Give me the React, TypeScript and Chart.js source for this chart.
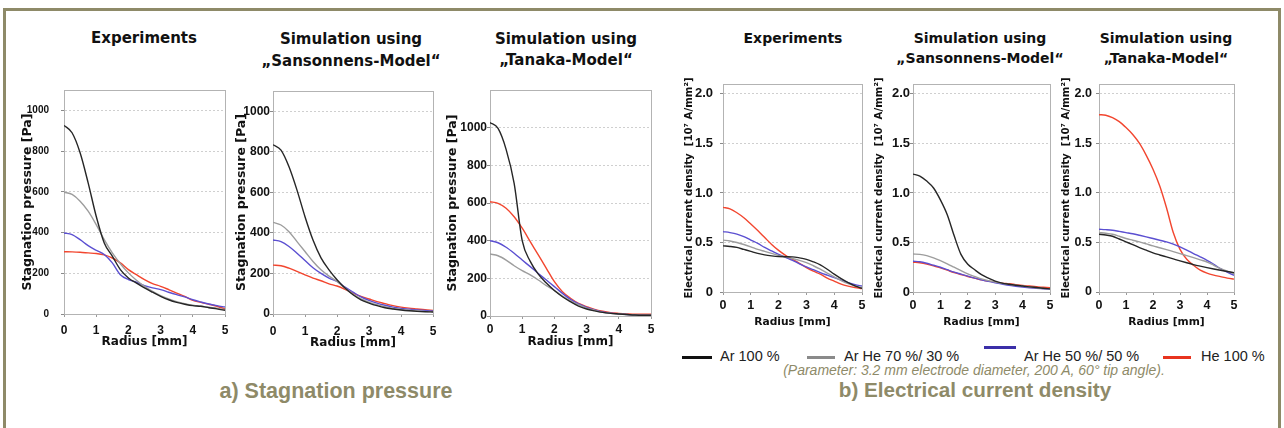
import React, { useEffect, useRef } from 'react';
import { Chart, registerables } from 'chart.js';
Chart.register(...registerables);

// ---------- data ----------
const radius = [0, 0.25, 0.5, 0.75, 1, 1.25, 1.5, 1.75, 2, 2.25, 2.5, 2.75, 3, 3.25, 3.5, 3.75, 4, 4.25, 4.5, 4.75, 5];
const radiusTicks = [0, 1, 2, 3, 4, 5];
const pressureTicks = [0, 200, 400, 600, 800, 1000];
const currentTicks = [0, 0.5, 1, 1.5, 2];
const gasLabels = ['Ar 100 %', 'Ar He 70 %/ 30 %', 'Ar He 50 %/ 50 %', 'He 100 %'];

// a) Stagnation pressure [Pa] - Experiments
const pExpAr100 = [926, 890, 792, 644, 480, 349, 284, 218, 177, 152, 128, 107, 87, 70, 57, 48, 41, 38, 31, 25, 18];
const pExpArHe70 = [598, 587, 554, 505, 439, 365, 300, 247, 202, 166, 136, 111, 90, 74, 61, 51, 43, 38, 34, 28, 21];
const pExpArHe50 = [398, 390, 365, 336, 313, 292, 251, 193, 169, 156, 139, 128, 120, 107, 95, 84, 70, 59, 49, 41, 34];
const pExpHe100 = [306, 305, 303, 300, 297, 290, 275, 251, 218, 193, 169, 149, 136, 120, 103, 87, 67, 57, 48, 38, 25];
// Sansonnens-Model
const pSanAr100 = [835, 808, 726, 611, 480, 365, 277, 218, 169, 128, 95, 70, 54, 41, 31, 25, 20, 16, 13, 11, 10];
const pSanArHe70 = [452, 439, 406, 357, 308, 259, 218, 187, 161, 128, 98, 75, 59, 46, 36, 28, 23, 19, 16, 13, 11];
const pSanArHe50 = [365, 357, 333, 300, 264, 228, 200, 177, 161, 133, 108, 84, 67, 54, 43, 34, 28, 24, 20, 17, 15];
const pSanHe100 = [241, 238, 226, 210, 193, 177, 164, 149, 138, 122, 103, 87, 74, 61, 51, 41, 34, 29, 25, 21, 18];
// Tanaka-Model
const pTanAr100 = [1027, 996, 885, 704, 400, 290, 222, 175, 135, 102, 76, 53, 37, 27, 19, 14, 11, 8, 5, 4, 4];
const pTanArHe70 = [329, 320, 297, 267, 241, 218, 191, 161, 135, 106, 81, 60, 42, 30, 19, 14, 11, 8, 5, 4, 4];
const pTanArHe50 = [400, 389, 365, 333, 297, 262, 226, 191, 156, 120, 88, 64, 46, 32, 21, 15, 11, 8, 5, 4, 4];
const pTanHe100 = [607, 598, 572, 527, 466, 395, 324, 253, 182, 129, 94, 67, 50, 35, 25, 18, 14, 11, 9, 9, 9];

// b) Electrical current density [10^7 A/mm²] - Experiments
const jExpAr100 = [0.466, 0.46, 0.45, 0.43, 0.41, 0.39, 0.375, 0.365, 0.358, 0.356, 0.355, 0.345, 0.33, 0.305, 0.274, 0.23, 0.18, 0.135, 0.095, 0.062, 0.037];
const jExpArHe70 = [0.524, 0.515, 0.5, 0.48, 0.456, 0.43, 0.41, 0.39, 0.37, 0.355, 0.338, 0.32, 0.297, 0.265, 0.23, 0.19, 0.152, 0.115, 0.084, 0.06, 0.044];
const jExpArHe50 = [0.61, 0.6, 0.585, 0.56, 0.524, 0.49, 0.45, 0.415, 0.38, 0.35, 0.32, 0.285, 0.253, 0.225, 0.196, 0.17, 0.145, 0.12, 0.095, 0.075, 0.06];
const jExpHe100 = [0.855, 0.84, 0.8, 0.75, 0.686, 0.62, 0.55, 0.48, 0.42, 0.37, 0.33, 0.29, 0.247, 0.21, 0.18, 0.14, 0.11, 0.08, 0.06, 0.045, 0.034];
// Sansonnens-Model
const jSanAr100 = [1.19, 1.17, 1.12, 1.05, 0.93, 0.78, 0.57, 0.38, 0.28, 0.225, 0.175, 0.14, 0.11, 0.09, 0.078, 0.068, 0.06, 0.052, 0.045, 0.038, 0.032];
const jSanArHe70 = [0.383, 0.38, 0.367, 0.345, 0.317, 0.285, 0.25, 0.215, 0.183, 0.157, 0.133, 0.115, 0.1, 0.088, 0.077, 0.068, 0.06, 0.051, 0.043, 0.036, 0.03];
const jSanArHe50 = [0.31, 0.305, 0.29, 0.27, 0.25, 0.225, 0.2, 0.18, 0.16, 0.14, 0.123, 0.107, 0.093, 0.08, 0.067, 0.058, 0.05, 0.043, 0.037, 0.032, 0.027];
const jSanHe100 = [0.3, 0.295, 0.283, 0.265, 0.243, 0.22, 0.197, 0.177, 0.157, 0.14, 0.123, 0.11, 0.1, 0.09, 0.083, 0.075, 0.067, 0.06, 0.053, 0.048, 0.043];
// Tanaka-Model
const jTanAr100 = [0.583, 0.575, 0.563, 0.535, 0.506, 0.478, 0.449, 0.422, 0.395, 0.374, 0.354, 0.334, 0.314, 0.295, 0.277, 0.261, 0.246, 0.232, 0.219, 0.207, 0.196];
const jTanArHe70 = [0.6, 0.593, 0.583, 0.563, 0.54, 0.523, 0.506, 0.486, 0.465, 0.447, 0.428, 0.408, 0.388, 0.368, 0.347, 0.325, 0.303, 0.27, 0.236, 0.21, 0.185];
const jTanArHe50 = [0.634, 0.63, 0.624, 0.612, 0.6, 0.588, 0.573, 0.557, 0.54, 0.523, 0.506, 0.483, 0.455, 0.423, 0.388, 0.355, 0.32, 0.28, 0.236, 0.2, 0.169];
const jTanHe100 = [1.79, 1.785, 1.76, 1.72, 1.66, 1.59, 1.5, 1.38, 1.24, 1.07, 0.85, 0.6, 0.43, 0.33, 0.27, 0.22, 0.19, 0.17, 0.155, 0.14, 0.13];

const headExp = ['Experiments'];
const headSan = ['Simulation using', '\u201ESansonnens-Model\u201C'];
const headTan = ['Simulation using', '\u201ETanaka-Model\u201C'];
const yTitlePressure = 'Stagnation pressure [Pa]';
const yTitleCurrent = 'Electrical current density  [10\u2077 A/mm\u00B2]';
const xTitle = 'Radius [mm]';

// ---------- styles ----------
const lineColors = ['#262626', '#9d9d9d', '#5b4fd1', '#f2462f'];
const legendColors = ['#111111', '#8a8a8a', '#3b2fa8', '#e8341f'];
const olive = '#8e8a68';
const SANS = '"Liberation Sans", Arial, sans-serif';
const DEJA = '"DejaVu Sans", sans-serif';
const PAD_TOP = 22;

type Cfg = {
  L: number; T: number; R: number; B: number;
  yMax: number; yTicks: number[]; yFmt: (v: number) => string;
  yTickSize: number; yTickPad: number;
  yTitle: string; yTitleSize: number; yTitleX: number;
  xTickSize: number; xTickPad: number;
  xTitleSize: number; xTitleY: number;
  series: number[][];
};

const fmtP = (v: number) => String(v);
const fmtJ = (v: number) => (v === 0 ? '0' : v.toFixed(1));

const panels: Cfg[] = [
  { L: 64, T: 90, R: 225, B: 314, yMax: 1100, yTicks: pressureTicks, yFmt: fmtP, yTickSize: 10, yTickPad: 12,
    yTitle: yTitlePressure, yTitleSize: 12.5, yTitleX: 27.5, xTickSize: 12, xTickPad: 6, xTitleSize: 12, xTitleY: 342,
    series: [pExpAr100, pExpArHe70, pExpArHe50, pExpHe100] },
  { L: 273, T: 91, R: 433, B: 314, yMax: 1100, yTicks: pressureTicks, yFmt: fmtP, yTickSize: 12, yTickPad: 0,
    yTitle: yTitlePressure, yTitleSize: 12.5, yTitleX: 241, xTickSize: 12, xTickPad: 7, xTitleSize: 12, xTitleY: 343,
    series: [pSanAr100, pSanArHe70, pSanArHe50, pSanHe100] },
  { L: 490, T: 90, R: 651, B: 316, yMax: 1200, yTicks: pressureTicks, yFmt: fmtP, yTickSize: 12, yTickPad: 0,
    yTitle: yTitlePressure, yTitleSize: 12.5, yTitleX: 452, xTickSize: 12, xTickPad: 3, xTitleSize: 12, xTitleY: 342,
    series: [pTanAr100, pTanArHe70, pTanArHe50, pTanHe100] },
  { L: 723, T: 84, R: 862, B: 292, yMax: 2.1, yTicks: currentTicks, yFmt: fmtJ, yTickSize: 13, yTickPad: 7,
    yTitle: yTitleCurrent, yTitleSize: 10.2, yTitleX: 689, xTickSize: 12.5, xTickPad: 3, xTitleSize: 10.7, xTitleY: 323,
    series: [jExpAr100, jExpArHe70, jExpArHe50, jExpHe100] },
  { L: 913, T: 84, R: 1050, B: 292, yMax: 2.1, yTicks: currentTicks, yFmt: fmtJ, yTickSize: 13, yTickPad: 0,
    yTitle: yTitleCurrent, yTitleSize: 10.2, yTitleX: 879, xTickSize: 12.5, xTickPad: 3, xTitleSize: 10.7, xTitleY: 323,
    series: [jSanAr100, jSanArHe70, jSanArHe50, jSanHe100] },
  { L: 1099, T: 84, R: 1234, B: 292, yMax: 2.1, yTicks: currentTicks, yFmt: fmtJ, yTickSize: 12.5, yTickPad: 4,
    yTitle: yTitleCurrent, yTitleSize: 10.2, yTitleX: 1066, xTickSize: 12.5, xTickPad: 3, xTitleSize: 10.7, xTitleY: 323,
    series: [jTanAr100, jTanArHe70, jTanArHe50, jTanHe100] },
];

const headings = [
  { lines: headExp, cx: 144, base: [44], size: 15 },
  { lines: headSan, cx: 351, base: [45, 67], size: 15 },
  { lines: headTan, cx: 566, base: [45, 66], size: 15 },
  { lines: headExp, cx: 793, base: [42.5], size: 14 },
  { lines: headSan, cx: 980, base: [43, 62.5], size: 14 },
  { lines: headTan, cx: 1166, base: [42.5, 62.5], size: 14 },
];

const frame = {
  id: 'plotFrame',
  beforeDatasetsDraw(chart: any) {
    const { ctx, chartArea: a } = chart;
    ctx.save();
    ctx.strokeStyle = '#b3b3b3';
    ctx.lineWidth = 1;
    ctx.strokeRect(Math.round(a.left) + 0.5, Math.round(a.top) + 0.5, Math.round(a.right - a.left), Math.round(a.bottom - a.top));
    ctx.restore();
  },
};

function geo(c: Cfg) {
  const cl = Math.round(c.yTitleX - (c.yTitleSize * 1.2) / 2);
  const ct = c.T - PAD_TOP;
  const cb = Math.round(c.xTitleY + (c.xTitleSize * 1.2) / 2);
  const cr = c.R + 14;
  return { cl, ct, w: cr - cl, h: cb - ct, yW: c.L - cl, xH: cb - c.B };
}

function Panel({ c }: { c: Cfg }) {
  const ref = useRef<HTMLCanvasElement | null>(null);
  const g = geo(c);
  useEffect(() => {
    if (!ref.current) return;
    const chart = new Chart(ref.current, {
      type: 'line',
      data: {
        datasets: c.series.map((s, i) => ({
          label: gasLabels[i],
          data: radius.map((x, k) => ({ x, y: s[k] })),
          borderColor: lineColors[i],
          borderWidth: 1.4,
          pointRadius: 0,
          fill: false,
          cubicInterpolationMode: 'monotone' as const,
        })),
      },
      options: {
        animation: false,
        responsive: false,
        devicePixelRatio: 1,
        events: [],
        layout: { padding: { left: 0, top: PAD_TOP, right: 14, bottom: 0 } },
        plugins: { legend: { display: false }, tooltip: { enabled: false }, title: { display: false } },
        scales: {
          x: {
            type: 'linear',
            min: 0,
            max: 5,
            afterBuildTicks: (s: any) => { s.ticks = radiusTicks.map((v) => ({ value: v })); },
            afterFit: (s: any) => { s.height = g.xH; },
            grid: { drawOnChartArea: false, drawTicks: true, tickLength: 3, color: '#9a9a9a' },
            border: { display: true, color: '#b3b3b3' },
            ticks: { color: '#111', padding: c.xTickPad, maxRotation: 0, autoSkip: false, font: { family: SANS, weight: 'bold', size: c.xTickSize } },
            title: { display: true, text: xTitle, color: '#111', padding: 0, font: { family: DEJA, weight: 'bold', size: c.xTitleSize } },
          },
          y: {
            type: 'linear',
            min: 0,
            max: c.yMax,
            afterBuildTicks: (s: any) => { s.ticks = c.yTicks.map((v) => ({ value: v })); },
            afterFit: (s: any) => { s.width = g.yW; },
            grid: { drawOnChartArea: true, drawTicks: true, tickLength: 3, color: '#cfcfcf', tickColor: '#8a8a8a' },
            border: { display: true, color: '#b3b3b3', dash: [2, 2] },
            ticks: { color: '#111', padding: c.yTickPad, callback: (v: any) => c.yFmt(Number(v)), font: { family: SANS, weight: 'bold', size: c.yTickSize } },
            title: { display: true, text: c.yTitle, color: '#111', padding: 0, font: { family: DEJA, weight: 'bold', size: c.yTitleSize } },
          },
        },
      } as any,
      plugins: [frame],
    });
    return () => chart.destroy();
  }, []);
  return (
    <canvas
      ref={ref}
      width={g.w}
      height={g.h}
      style={{ position: 'absolute', left: g.cl, top: g.ct, width: g.w, height: g.h }}
    />
  );
}

function TextAt(p: { text: string; cx?: number; left?: number; base: number; size: number; family: string; weight?: any; italic?: boolean; color: string }) {
  const s: React.CSSProperties = {
    position: 'absolute',
    top: p.base - 0.846 * p.size,
    fontSize: p.size,
    lineHeight: 1,
    fontFamily: p.family,
    fontWeight: p.weight || 'normal',
    fontStyle: p.italic ? 'italic' : 'normal',
    color: p.color,
    whiteSpace: 'nowrap',
  };
  if (p.cx !== undefined) {
    s.left = p.cx - 300;
    s.width = 600;
    s.textAlign = 'center';
  } else {
    s.left = p.left;
  }
  return <div style={s}>{p.text}</div>;
}

const legendItems = [
  { x1: 682, x2: 712, y: 357, tx: 720 },
  { x1: 807, x2: 835, y: 357, tx: 844 },
  { x1: 984, x2: 1016, y: 347.5, tx: 1024 },
  { x1: 1163, x2: 1191, y: 357, tx: 1201 },
];

export default function App() {
  return (
    <div style={{ position: 'absolute', left: 0, top: 0, width: 1284, height: 428, overflow: 'hidden', background: '#fff' }}>
      <div style={{ position: 'absolute', left: 3, top: 8, width: 1281 - 3, height: 460, boxSizing: 'border-box', border: `3px solid ${olive}` }} />
      {headings.map((h, i) =>
        h.lines.map((t, j) => (
          <TextAt key={`h${i}-${j}`} text={t} cx={h.cx} base={h.base[j]} size={h.size} family={DEJA} weight="bold" color="#111" />
        ))
      )}
      {panels.map((c, i) => (
        <Panel key={i} c={c} />
      ))}
      {legendItems.map((it, i) => (
        <React.Fragment key={`l${i}`}>
          <div style={{ position: 'absolute', left: it.x1, top: it.y - 1.5, width: it.x2 - it.x1, height: 3, background: legendColors[i] }} />
          <TextAt text={gasLabels[i]} left={it.tx} base={361.5} size={14.5} family={SANS} color="#222" />
        </React.Fragment>
      ))}
      <TextAt text="(Parameter: 3.2 mm electrode diameter, 200 A, 60° tip angle)." cx={974} base={374.5} size={14} family={SANS} italic color={olive} />
      <TextAt text="a) Stagnation pressure" cx={336} base={399} size={21.5} family={SANS} weight="bold" color={olive} />
      <TextAt text="b) Electrical current density" cx={975} base={397.5} size={20.7} family={SANS} weight="bold" color={olive} />
    </div>
  );
}
